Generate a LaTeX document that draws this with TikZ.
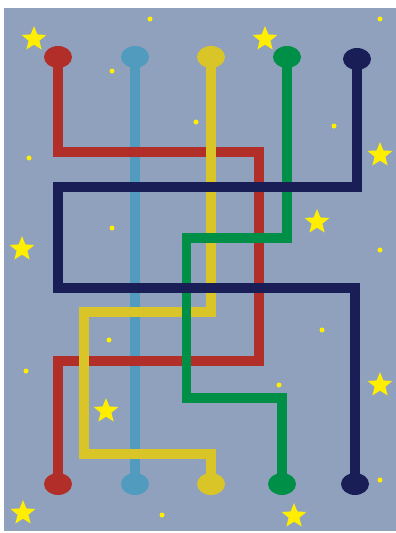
\documentclass[tikz,border=0pt]{standalone}
\usetikzlibrary{shapes.geometric}

\definecolor{sky}{HTML}{8FA1BD}
\definecolor{wred}{HTML}{B22E29}
\definecolor{wblue}{HTML}{519BBE}
\definecolor{wyellow}{HTML}{D9C528}
\definecolor{wgreen}{HTML}{008F46}
\definecolor{wnavy}{HTML}{1A1E56}
\definecolor{starcol}{HTML}{FFEE00}

\begin{document}
\begin{tikzpicture}[x=1pt, y=-1pt, line width=9.5pt,
	plug/.style={ellipse, minimum width=28pt, minimum height=22pt, inner sep=0pt},
	twinkle/.style={star, star points=5, star point ratio=2.3, minimum size=26pt, inner sep=0pt, fill=starcol},
	speck/.style={circle, minimum size=5pt, inner sep=0pt, fill=starcol}]
	\useasboundingbox (0,0) rectangle (396,533);
	\fill[sky] (4,8) rectangle (396,531);
	% stars and specks
	\foreach \x/\y [count=\i] in {34/39, 265/39, 380/155, 22/249, 317/222, 106/411, 23/513, 380/385, 294/516}
		\node[twinkle] (star\i) at (\x,\y) {};
	\foreach \x/\y [count=\i] in {150/19, 112/71, 196/122, 29/158, 380/19, 334/126, 112/228, 109/340, 380/250, 322/330, 26/371, 162/515, 279/385, 380/480}
		\node[speck] (speck\i) at (\x,\y) {};
	% plugs, top row
	\node[plug, fill=wred] (redtop) at (58,57) {};
	\node[plug, fill=wblue] (bluetop) at (135,57) {};
	\node[plug, fill=wyellow] (yeltop) at (211,57) {};
	\node[plug, fill=wgreen] (grntop) at (287,57) {};
	\node[plug, fill=wnavy] (navtop) at (357,59) {};
	% plugs, bottom row
	\node[plug, fill=wred] (redbot) at (58,484) {};
	\node[plug, fill=wblue] (bluebot) at (135,484) {};
	\node[plug, fill=wyellow] (yelbot) at (211,484) {};
	\node[plug, fill=wgreen] (grnbot) at (282,484) {};
	\node[plug, fill=wnavy] (navbot) at (355,484) {};
	% wires, bottom layer first
	\draw[wblue] (bluetop.center) -- (bluebot.center);
	\draw[wred] (redtop.center) |- (259,152) |- (58,361) -- (redbot.center);
	\draw[wyellow] (yeltop.center) |- (84,312) |- (211,454) -- (yelbot.center);
	\draw[wgreen] (grntop.center) |- (186.5,238) |- (282,398) -- (grnbot.center);
	\draw[wnavy] (navtop.center) |- (58,187) |- (355,288) -- (navbot.center);
\end{tikzpicture}
\end{document}
